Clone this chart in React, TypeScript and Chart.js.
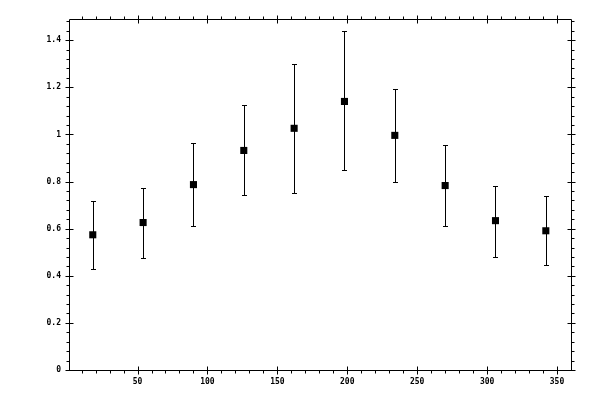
import { useEffect, useRef } from "react";
import Chart from "chart.js/auto";

// bin centres (degrees) and measured values with error limits
const xValues = [18, 54, 90, 126, 162, 198, 234, 270, 306, 342];
const yValues = [0.574, 0.626, 0.787, 0.932, 1.026, 1.14, 0.996, 0.783, 0.634, 0.591];
const yLower = [0.43, 0.477, 0.613, 0.745, 0.753, 0.847, 0.8, 0.613, 0.481, 0.447];
const yUpper = [0.719, 0.774, 0.962, 1.123, 1.298, 1.438, 1.191, 0.957, 0.783, 0.74];

const xMajorTicks = [50, 100, 150, 200, 250, 300, 350];
const xTickLabels = ["50", "100", "150", "200", "250", "300", "350"];
const yMajorTicks = [0, 0.2, 0.4, 0.6, 0.8, 1, 1.2, 1.4];
const yTickLabels = ["0", "0.2", "0.4", "0.6", "0.8", "1", "1.2", "1.4"];

const X_MIN = 1;
const X_MAX = 360;
const Y_MIN = 0;
const Y_MAX = 1.49;

const crisp = (v: number) => Math.round(v) + 0.5;

const errorBars = {
  id: "errorBars",
  beforeDatasetsDraw(chart: any) {
    const { ctx, scales } = chart;
    const xs = scales.x;
    const ys = scales.y;
    ctx.save();
    ctx.strokeStyle = "#000";
    ctx.lineWidth = 1;
    ctx.beginPath();
    xValues.forEach((xv, i) => {
      const x = crisp(xs.getPixelForValue(xv));
      const top = crisp(ys.getPixelForValue(yUpper[i]));
      const bot = crisp(ys.getPixelForValue(yLower[i]));
      ctx.moveTo(x, top);
      ctx.lineTo(x, bot);
      ctx.moveTo(x - 2.5, top);
      ctx.lineTo(x + 2.5, top);
      ctx.moveTo(x - 2.5, bot);
      ctx.lineTo(x + 2.5, bot);
    });
    ctx.stroke();
    ctx.restore();
  },
};

const frame = {
  id: "frame",
  afterDraw(chart: any) {
    const { ctx, chartArea, scales } = chart;
    const xs = scales.x;
    const ys = scales.y;
    const left = crisp(chartArea.left);
    const right = crisp(chartArea.right);
    const top = crisp(chartArea.top);
    const bottom = crisp(chartArea.bottom);

    ctx.save();
    ctx.strokeStyle = "#000";
    ctx.lineWidth = 1;
    ctx.beginPath();
    ctx.rect(left, top, right - left, bottom - top);

    // x ticks, top and bottom
    for (let v = 10; v < X_MAX; v += 10) {
      const x = crisp(xs.getPixelForValue(v));
      if (v % 50 === 0) {
        ctx.moveTo(x, bottom - 4);
        ctx.lineTo(x, bottom + 4);
        ctx.moveTo(x, top - 4);
        ctx.lineTo(x, top + 4);
      } else {
        ctx.moveTo(x, bottom);
        ctx.lineTo(x, bottom + 3);
        ctx.moveTo(x, top);
        ctx.lineTo(x, top - 3);
      }
    }

    // y ticks, left and right
    for (let k = 1; k * 0.04 < Y_MAX; k++) {
      if (k % 5 === 0) continue;
      const y = crisp(ys.getPixelForValue(k * 0.04));
      ctx.moveTo(left, y);
      ctx.lineTo(left - 3, y);
      ctx.moveTo(right, y);
      ctx.lineTo(right + 3, y);
    }
    yMajorTicks.forEach((v) => {
      const y = crisp(ys.getPixelForValue(v));
      ctx.moveTo(left - 4, y);
      ctx.lineTo(left + 4, y);
      ctx.moveTo(right - 4, y);
      ctx.lineTo(right + 4, y);
    });
    ctx.stroke();

    ctx.fillStyle = "#000";
    ctx.font = "bold 8px 'DejaVu Sans Mono'";
    ctx.textAlign = "right";
    ctx.textBaseline = "middle";
    yMajorTicks.forEach((v, i) => {
      ctx.fillText(yTickLabels[i], chartArea.left - 8, ys.getPixelForValue(v));
    });
    ctx.textAlign = "center";
    ctx.textBaseline = "top";
    xMajorTicks.forEach((v, i) => {
      ctx.fillText(xTickLabels[i], xs.getPixelForValue(v), chartArea.bottom + 8);
    });
    ctx.restore();
  },
};

export default function App() {
  const chartRef = useRef<HTMLCanvasElement>(null);

  useEffect(() => {
    if (!chartRef.current) return;
    const ctx = chartRef.current.getContext("2d");
    if (!ctx) return;

    const chart = new Chart(ctx, {
      type: "scatter",
      data: {
        datasets: [
          {
            data: xValues.map((x, i) => ({ x, y: yValues[i] })),
            backgroundColor: "#000",
            borderWidth: 0,
            pointStyle: "rect",
            pointRadius: 5,
          },
        ],
      },
      options: {
        responsive: false,
        animation: false,
        devicePixelRatio: 1,
        layout: {
          padding: { left: 69, right: 29, top: 19, bottom: 30 },
        },
        plugins: {
          legend: { display: false },
          tooltip: { enabled: false },
        },
        scales: {
          x: { type: "linear", min: X_MIN, max: X_MAX, display: false },
          y: { type: "linear", min: Y_MIN, max: Y_MAX, display: false },
        },
      },
      plugins: [errorBars, frame],
    });

    return () => chart.destroy();
  }, []);

  return (
    <div style={{ position: "absolute", left: 0, top: 0, width: 600, height: 400, background: "#fff" }}>
      <canvas ref={chartRef} width={600} height={400} />
    </div>
  );
}
